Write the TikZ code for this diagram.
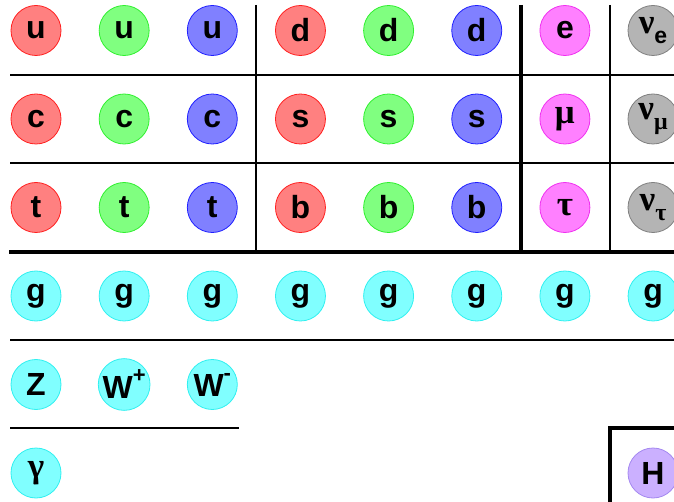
\documentclass[tikz,border=0pt]{standalone}
\usepackage{fontspec}
\setmainfont{Liberation Sans}
\newfontfamily\greekfont{Liberation Serif}
\usetikzlibrary{positioning}

\definecolor{redfill}{HTML}{FF8080}
\definecolor{reddraw}{HTML}{FF2020}
\definecolor{greenfill}{HTML}{80FF80}
\definecolor{greendraw}{HTML}{30F030}
\definecolor{bluefill}{HTML}{8080FF}
\definecolor{bluedraw}{HTML}{2020FF}
\definecolor{leptonfill}{HTML}{FF80FF}
\definecolor{leptondraw}{HTML}{F030F0}
\definecolor{nufill}{HTML}{B4B4B4}
\definecolor{nudraw}{HTML}{808080}
\definecolor{bosonfill}{HTML}{80FFFF}
\definecolor{bosondraw}{HTML}{30F0F0}
\definecolor{higgsfill}{HTML}{CBB0FF}
\definecolor{higgsdraw}{HTML}{A488F0}

\newcommand{\gk}[1]{{\greekfont\fontsize{35}{35}\selectfont #1}}
\newcommand{\sub}[1]{\raisebox{-0.32em}{\fontsize{23}{23}\selectfont #1}}
\newcommand{\sups}[1]{\raisebox{0.5em}{\fontsize{22}{22}\selectfont #1}}

\begin{document}
\begin{tikzpicture}[
        x=1pt, y=-1pt,
        particle/.style={circle, minimum size=50pt, inner sep=0pt, line width=0.8pt,
            font=\fontsize{32}{32}\selectfont\bfseries},
        qr/.style={particle, draw=reddraw, fill=redfill},
        qg/.style={particle, draw=greendraw, fill=greenfill},
        qb/.style={particle, draw=bluedraw, fill=bluefill},
        lep/.style={particle, draw=leptondraw, fill=leptonfill},
        neu/.style={particle, draw=nudraw, fill=nufill},
        bos/.style={particle, draw=bosondraw, fill=bosonfill},
        hig/.style={particle, draw=higgsdraw, fill=higgsfill},
        gridline/.style={line width=1.2pt},
        heavyline/.style={line width=4pt}
    ]
        \useasboundingbox (0,0) rectangle (674,502);
        \clip (0,0) rectangle (674,502);

        % grid of the fermions
        \draw[gridline] (10,75) -- (674,75);
        \draw[gridline] (10,163) -- (674,163);
        \draw[gridline] (256,5) -- (256,252);
        \draw[gridline] (610,5) -- (610,252);
        \draw[heavyline] (521,5) -- (521,252);
        \draw[heavyline] (9,252) -- (674,252);
        % bosons
        \draw[gridline] (10,340) -- (674,340);
        \draw[gridline] (10,428) -- (239,428);
        \draw[heavyline] (610,502) -- (610,428) -- (676,428);

        % quarks
        \foreach \up/\down/\j in {u/d/0, c/s/1, t/b/2} {
            \node[qr] (\up-r) at (36,{30.5+\j*88.5}) {\up};
            \node[qg] (\up-g) at (124.15,{30.5+\j*88.5}) {\up};
            \node[qb] (\up-b) at (212.3,{30.5+\j*88.5}) {\up};
            \node[qr] (\down-r) at (300.45,{30.5+\j*88.5}) {\down};
            \node[qg] (\down-g) at (388.6,{30.5+\j*88.5}) {\down};
            \node[qb] (\down-b) at (476.75,{30.5+\j*88.5}) {\down};
        }

        % leptons
        \node[lep] (e) at (564.9,30.5) {e};
        \node[lep] (mu) at (564.9,119) {\gk{μ}};
        \node[lep] (tau) at (564.9,207.5) {\gk{τ}};
        \node[neu] (nue) at (653,30.5) {\gk{ν}\sub{e}};
        \node[neu] (numu) at (653,119) {\gk{ν}\sub{\gk{\fontsize{24}{24}\selectfont μ}}};
        \node[neu] (nutau) at (653,207.5) {\gk{ν}\sub{\gk{\fontsize{24}{24}\selectfont τ}}};

        % gluons
        \foreach \i in {0,...,7}
            \node[bos] (g\i) at ({36+\i*88.15},296) {g};

        \node[bos] (Z) at (36,384.5) {Z};
        \node[bos] (Wp) at (124.15,384.5) {W\sups{+}};
        \node[bos] (Wm) at (212.3,384.5) {W\sups{-}};
        \node[bos] (gamma) at (36,473) {\gk{γ}};
        \node[hig] (H) at (653,473) {H};
    \end{tikzpicture}
\end{document}
